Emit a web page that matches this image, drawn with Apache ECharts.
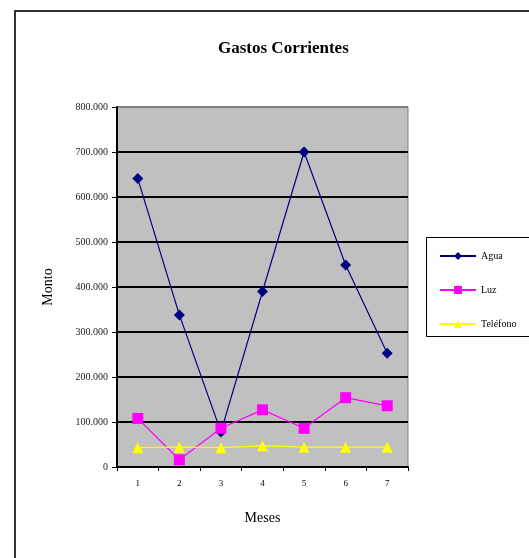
<!DOCTYPE html>
<html>
<head>
<meta charset="utf-8">
<script src="https://cdn.jsdelivr.net/npm/echarts@6/dist/echarts.min.js"></script>
<style>
  html, body { margin: 0; padding: 0; background: #fff; }
  #chart { width: 529px; height: 558px; }
</style>
</head>
<body>
<div id="chart"></div>
<script>
const meses = ['1', '2', '3', '4', '5', '6', '7']
const agua = [641000, 338000, 78000, 390000, 700000, 449000, 253000]
const luz = [108000, 16000, 86000, 127000, 86000, 154000, 136000]
const telefono = [43000, 44000, 43000, 47000, 44000, 44000, 44000]

const serif = 'Liberation Serif'

function miles(v) {
  return String(v).replace(/\B(?=(\d{3})+(?!\d))/g, '.')
}

const myChart = echarts.init(document.getElementById('chart'))

const option = {
  backgroundColor: '#fff',
  animation: false,
  textStyle: { fontFamily: serif, color: '#000' },
  title: {
    text: 'Gastos Corrientes',
    left: 213,
    top: 35,
    textStyle: { fontFamily: serif, fontSize: 17, fontWeight: 'bold', color: '#000' }
  },
  graphic: [
    {
      type: 'rect',
      shape: { x: 15, y: 11, width: 530, height: 560 },
      style: { fill: 'none', stroke: '#333', lineWidth: 2 },
      silent: true
    },
    {
      type: 'rect',
      shape: { x: 426.5, y: 237.5, width: 120, height: 99 },
      style: { fill: '#fff', stroke: '#000', lineWidth: 1 },
      z: 0,
      silent: true
    }
  ],
  legend: {
    orient: 'vertical',
    left: 434,
    top: 246,
    itemWidth: 36,
    itemHeight: 10,
    itemGap: 24,
    textStyle: { fontFamily: serif, fontSize: 10, color: '#000' },
    z: 5
  },
  grid: {
    left: 117,
    top: 107,
    width: 291,
    height: 360,
    show: true,
    backgroundColor: '#C0C0C0',
    borderColor: '#808080',
    borderWidth: 1
  },
  xAxis: {
    type: 'category',
    data: meses,
    boundaryGap: true,
    name: 'Meses',
    nameLocation: 'middle',
    nameGap: 44,
    nameTextStyle: { fontFamily: serif, fontSize: 14, color: '#000' },
    axisLine: { lineStyle: { color: '#000', width: 2 } },
    axisTick: { show: true, length: 4, lineStyle: { color: '#000' } },
    axisLabel: { fontFamily: serif, fontSize: 9, color: '#000', margin: 12 },
    splitLine: { show: false }
  },
  yAxis: {
    type: 'value',
    min: 0,
    max: 800000,
    interval: 100000,
    name: 'Monto',
    nameLocation: 'middle',
    nameGap: 62,
    nameTextStyle: { fontFamily: serif, fontSize: 14, color: '#000' },
    axisLine: { show: true, lineStyle: { color: '#000', width: 2 } },
    axisTick: { show: true, length: 5, lineStyle: { color: '#000' } },
    axisLabel: { fontFamily: serif, fontSize: 10, color: '#222', margin: 9, formatter: miles },
    splitLine: {
      show: true,
      lineStyle: {
        color: ['#000', '#000', '#000', '#000', '#000', '#000', '#000', '#000', '#808080'],
        width: 2
      }
    }
  },
  series: [
    {
      name: 'Agua',
      type: 'line',
      data: agua,
      symbol: 'diamond',
      symbolSize: 11,
      itemStyle: { color: '#000080' },
      lineStyle: { color: '#000080', width: 1.2 }
    },
    {
      name: 'Luz',
      type: 'line',
      data: luz,
      symbol: 'rect',
      symbolSize: 11,
      itemStyle: { color: '#FF00FF' },
      lineStyle: { color: '#FF00FF', width: 1.2 }
    },
    {
      name: 'Teléfono',
      type: 'line',
      data: telefono,
      symbol: 'triangle',
      symbolSize: 11,
      itemStyle: { color: '#FFFF00' },
      lineStyle: { color: '#FFFF00', width: 1.2 }
    }
  ]
}

option && myChart.setOption(option)
</script>
</body>
</html>
